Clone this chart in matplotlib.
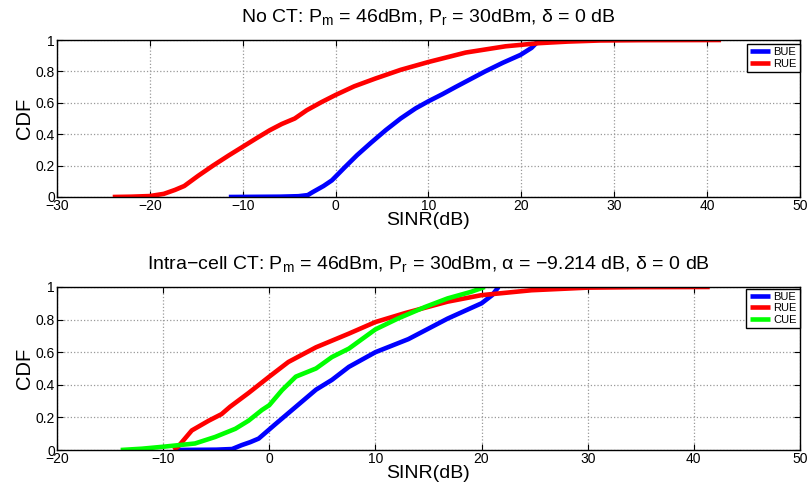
import matplotlib
matplotlib.use("Agg")
import matplotlib.pyplot as plt
import numpy as np

plt.rcParams['font.family'] = ['Liberation Sans', 'DejaVu Sans']
plt.rcParams['mathtext.fontset'] = 'custom'
plt.rcParams['mathtext.rm'] = 'Liberation Sans'
plt.rcParams['mathtext.it'] = 'Liberation Sans'

# ---- Top panel (No CT) ----
top_bue_x = [-11.5, -6, -4, -3, -2.5, -1.3, -0.4, 1.0, 2.3, 3.8, 5.4, 7.0, 8.6, 10.0, 11.5, 12.9, 14.5, 16.1, 18.0, 19.9, 21.1, 21.6, 21.9]
top_bue_y = [0.0, 0.002, 0.005, 0.012, 0.03, 0.07, 0.106, 0.19, 0.266, 0.345, 0.426, 0.5, 0.564, 0.61, 0.655, 0.70, 0.75, 0.80, 0.855, 0.905, 0.95, 0.98, 1.0]
top_rue_x = [-24.0, -22, -20, -18.5, -17.3, -16.3, -14.8, -13.2, -11.5, -10.0, -8.5, -7.1, -5.8, -4.4, -3.1, -1.5, 0.0, 2.0, 4.3, 7.0, 10.0, 14.0, 18.3, 21.9, 25.0, 28.5, 33.0, 41.5]
top_rue_y = [0.0, 0.002, 0.006, 0.02, 0.045, 0.07, 0.135, 0.2, 0.265, 0.32, 0.375, 0.425, 0.465, 0.5, 0.553, 0.605, 0.65, 0.705, 0.755, 0.81, 0.86, 0.92, 0.96, 0.98, 0.99, 0.997, 0.999, 1.0]

# ---- Bottom panel (Intra-cell CT) ----
bot_bue_x = [-9.0, -5.0, -3.5, -2.6, -1.8, -1.0, 0.6, 2.5, 4.4, 5.9, 7.5, 10.0, 13.1, 16.8, 20.0, 21.0, 21.6]
bot_bue_y = [0.0, 0.002, 0.006, 0.03, 0.048, 0.07, 0.16, 0.265, 0.37, 0.43, 0.51, 0.60, 0.68, 0.806, 0.90, 0.95, 1.0]
bot_rue_x = [-9.0, -8.6, -7.3, -5.7, -4.5, -3.7, -1.95, 0.0, 1.8, 4.4, 7.5, 10.0, 12.8, 16.8, 20.0, 24.7, 30.0, 35.0, 41.5]
bot_rue_y = [0.0, 0.02, 0.12, 0.18, 0.22, 0.265, 0.35, 0.45, 0.54, 0.63, 0.714, 0.785, 0.84, 0.91, 0.95, 0.98, 0.996, 0.999, 1.0]
bot_cue_x = [-14.0, -12.0, -10.0, -7.0, -5.1, -3.2, -1.95, -0.7, 0.0, 1.2, 2.5, 4.4, 5.9, 7.5, 10.0, 12.1, 14.7, 16.8, 19.0, 20.3]
bot_cue_y = [0.0, 0.008, 0.02, 0.04, 0.08, 0.13, 0.18, 0.245, 0.275, 0.367, 0.45, 0.5, 0.57, 0.622, 0.74, 0.806, 0.878, 0.93, 0.97, 1.0]

fig = plt.figure(figsize=(8.11, 4.91), dpi=100)
ax1 = fig.add_axes([0.0703, 0.5988, 0.9161, 0.3197])
ax2 = fig.add_axes([0.0703, 0.0835, 0.9161, 0.3320])

lw = 3.3

def style(ax, xmin, xmax):
    ax.set_xlim(xmin, xmax)
    ax.set_ylim(0, 1)
    ax.set_xticks(np.arange(xmin, xmax + 1, 10))
    ax.set_yticks([0, 0.2, 0.4, 0.6, 0.8, 1])
    ax.set_yticklabels(['0', '0.2', '0.4', '0.6', '0.8', '1'])
    ax.grid(True, linestyle=':', color='#999999', linewidth=0.9)
    ax.tick_params(direction='in', top=True, right=True, labelsize=10, length=4, pad=1.5)
    for s in ax.spines.values():
        s.set_linewidth(1.0)
    ax.set_ylabel('CDF', fontsize=14.5, labelpad=1)
    ax.set_xlabel('SINR(dB)', fontsize=14, labelpad=-1)

def legend(ax, ytop):
    leg = ax.legend(loc='upper right', bbox_to_anchor=(1.0, ytop), fontsize=8,
                    frameon=True, fancybox=False, edgecolor='black', framealpha=1,
                    handlelength=1.8, handletextpad=0.3, borderpad=0.3, labelspacing=0.12,
                    borderaxespad=0.0)
    leg.get_frame().set_linewidth(1.0)

ax1.plot(top_bue_x, top_bue_y, color='#0000ff', lw=lw, label='BUE', solid_capstyle='butt')
ax1.plot(top_rue_x, top_rue_y, color='#ff0000', lw=lw, label='RUE', solid_capstyle='butt')
style(ax1, -30, 50)
ax1.set_title(r'No CT: P$_{\mathrm{m}}$ = 46dBm, P$_{\mathrm{r}}$ = 30dBm, $\mathrm{\delta}$ = 0 dB',
              fontsize=14, pad=13)
legend(ax1, 0.975)

ax2.plot(bot_bue_x, bot_bue_y, color='#0000ff', lw=lw, label='BUE', solid_capstyle='butt')
ax2.plot(bot_rue_x, bot_rue_y, color='#ff0000', lw=lw, label='RUE', solid_capstyle='butt')
ax2.plot(bot_cue_x, bot_cue_y, color='#00ff00', lw=lw, label='CUE', solid_capstyle='butt')
style(ax2, -20, 50)
ax2.set_title(r'Intra$-$cell CT: P$_{\mathrm{m}}$ = 46dBm, P$_{\mathrm{r}}$ = 30dBm, $\mathrm{\alpha}$ = $-$9.214 dB, $\mathrm{\delta}$ = 0 dB',
              fontsize=14, pad=13)
legend(ax2, 0.99)

fig.savefig('out.png', dpi=100)
